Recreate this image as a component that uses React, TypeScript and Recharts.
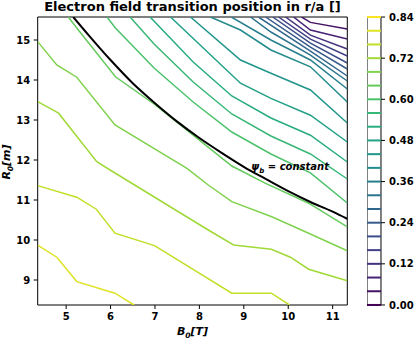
import React from 'react';
import { LineChart, Line, XAxis, YAxis, ReferenceArea, ReferenceDot } from 'recharts';

// contour levels, bottom-left (yellow) to top-right (purple)
const levels = [0.8, 0.76, 0.72, 0.68, 0.64, 0.6, 0.56, 0.52, 0.48, 0.44, 0.4, 0.36, 0.32, 0.28, 0.24, 0.2, 0.16, 0.12, 0.08, 0.04];

// contour paths, [B0, R0]
const c080 = [[4.36, 9.87], [4.79, 9.57], [5.24, 8.96], [6.1, 8.67], [6.53, 8.375]];
const c076 = [[4.36, 11.36], [5.24, 11.07], [5.68, 10.77], [6.1, 10.17], [6.99, 9.86], [8.73, 8.67], [9.62, 8.67], [10.03, 8.375]];
const c072 = [[4.36, 13.46], [4.83, 13.17], [5.69, 11.96], [5.99, 11.75], [8.2, 10.25], [8.77, 9.875], [9.62, 9.77], [10.05, 9.57], [10.46, 9.27], [11.33, 8.98]];
const c068 = [[4.36, 14.96], [4.79, 14.375], [5.24, 14.07], [6.1, 12.875], [7.72, 11.79], [8.2, 11.375], [8.73, 10.96], [9.63, 10.58], [10.46, 10.17], [11.33, 9.73]];
const c064 = [[5.05, 15.575], [5.24, 15.3], [6.11, 14.08], [6.98, 13.4], [7.86, 12.62], [8.73, 11.85], [9.48, 11.42], [10.46, 10.92], [11.33, 10.33]];
const c060 = [[5.92, 15.575], [6.11, 15.3], [6.98, 14.3], [7.86, 13.45], [8.73, 12.7], [9.61, 12.15], [10.5, 11.68], [11.33, 10.925]];
const c056 = [[6.44, 15.575], [6.98, 14.9], [7.86, 13.95], [8.73, 13.15], [9.61, 12.6], [10.5, 12.15], [11.33, 11.525]];
const c052 = [[6.89, 15.575], [7.86, 14.45], [8.73, 13.6], [9.61, 13.05], [10.5, 12.62], [11.33, 11.95]];
const c048 = [[7.35, 15.575], [8.925, 13.92], [9.61, 13.54], [10.5, 13.12], [11.33, 12.45]];
const c044 = [[7.8, 15.575], [8.925, 14.5], [9.61, 14.17], [10.5, 13.75], [11.33, 12.925]];
const c040 = [[8.25, 15.575], [8.925, 15.25], [9.61, 14.75], [10.5, 14.33], [11.33, 13.45]];
const c036 = [[8.72, 15.575], [9.61, 15.0], [10.5, 14.5], [11.33, 13.775]];
const c032 = [[9.15, 15.575], [9.61, 15.2], [10.5, 14.62], [11.33, 13.975]];
const c028 = [[9.33, 15.575], [10.5, 14.72], [11.33, 14.1]];
const c024 = [[9.49, 15.575], [10.5, 14.82], [11.33, 14.275]];
const c020 = [[9.65, 15.575], [10.5, 14.92], [11.33, 14.425]];
const c016 = [[9.78, 15.575], [10.5, 15.02], [11.33, 14.6]];
const c012 = [[9.94, 15.575], [10.5, 15.12], [11.33, 14.775]];
const c008 = [[10.12, 15.575], [10.5, 15.25], [11.33, 15.025]];
const c004 = [[10.3, 15.575], [10.5, 15.44], [11.33, 15.275]];

// psi_b = constant curve
const psiB = [[5.16, 15.575], [5.5, 15.13], [6, 14.5], [6.5, 13.92], [7, 13.42], [7.5, 12.96], [8, 12.55], [8.5, 12.18], [9, 11.83], [9.5, 11.52], [10, 11.22], [10.5, 10.95], [11, 10.71], [11.33, 10.53]];

const xTicks = [5, 6, 7, 8, 9, 10, 11];
const yTicks = [9, 10, 11, 12, 13, 14, 15];
const cbLevels = [0, 0.04, 0.08, 0.12, 0.16, 0.2, 0.24, 0.28, 0.32, 0.36, 0.4, 0.44, 0.48, 0.52, 0.56, 0.6, 0.64, 0.68, 0.72, 0.76, 0.8, 0.84];
const cbTicks = [0, 0.12, 0.24, 0.36, 0.48, 0.6, 0.72, 0.84];

const contours = [c080, c076, c072, c068, c064, c060, c056, c052, c048, c044, c040, c036, c032, c028, c024, c020, c016, c012, c008, c004];

const viridisStops = ['#440154', '#482475', '#414487', '#355f8d', '#2a788e', '#21918c', '#22a884', '#44bf70', '#7ad151', '#bddf26', '#fde725'];

function viridis(t: number) {
  const s = Math.max(0, Math.min(1, t)) * (viridisStops.length - 1);
  const i = Math.min(Math.floor(s), viridisStops.length - 2);
  const f = s - i;
  const a = viridisStops[i], b = viridisStops[i + 1];
  const ch = (h: string, k: number) => parseInt(h.slice(1 + 2 * k, 3 + 2 * k), 16);
  const c = [0, 1, 2].map((k) => Math.round(ch(a, k) + (ch(b, k) - ch(a, k)) * f));
  return `rgb(${c[0]},${c[1]},${c[2]})`;
}

const toPts = (arr: number[][]) => arr.map(([x, y]) => ({ x, y }));

const font = 'DejaVu Sans';
const tickStyle = { fill: '#000', fontSize: 10, fontWeight: 'bold', fontFamily: font };

export default function App() {
  return (
    <div style={{ position: 'absolute', left: 0, top: 0, width: 416, height: 339, background: '#fff', fontFamily: font }}>
      <LineChart width={416} height={339} margin={{ top: 17, right: 68.7, bottom: 4, left: 7.7 }}>
        <XAxis
          type="number"
          dataKey="x"
          domain={[4.36, 11.33]}
          allowDataOverflow
          ticks={xTicks}
          interval={0}
          height={30}
          tickSize={4}
          tickMargin={4}
          tick={tickStyle}
          axisLine={false}
          tickLine={{ stroke: '#000' }}
        />
        <YAxis
          type="number"
          domain={[8.375, 15.575]}
          allowDataOverflow
          ticks={yTicks}
          interval={0}
          width={30}
          tickSize={4}
          tickMargin={3.5}
          tick={tickStyle}
          axisLine={false}
          tickLine={{ stroke: '#000' }}
        />
        {contours.map((c, i) => (
          <Line
            key={i}
            data={toPts(c)}
            dataKey="y"
            type="linear"
            stroke={viridis(levels[i] / 0.84)}
            strokeWidth={1.5}
            dot={false}
            activeDot={false}
            isAnimationActive={false}
          />
        ))}
        <Line
          data={toPts(psiB)}
          dataKey="y"
          type="monotone"
          stroke="#000"
          strokeWidth={2}
          dot={false}
          activeDot={false}
          isAnimationActive={false}
        />
        <ReferenceDot
          x={9.17}
          y={11.75}
          r={0}
          shape={(p: any) => (
            <text x={p.cx} y={p.cy} fontSize={10} fontWeight="bold" fontStyle="italic" fontFamily={font} fill="#000">
              ψ<tspan dy={2.5} fontSize={7}>b</tspan>
              <tspan dy={-2.5}> = constant</tspan>
            </text>
          )}
        />
        <ReferenceArea x1={4.36} x2={11.33} y1={8.375} y2={15.575} fill="none" stroke="#000" strokeWidth={1} />
      </LineChart>

      <div style={{ position: 'absolute', left: 367.3, top: 0 }}>
        <LineChart width={48.7} height={339} margin={{ top: 17, right: 0, bottom: 34, left: 0 }}>
          <XAxis type="number" dataKey="x" domain={[0, 1]} hide />
          <YAxis
            type="number"
            orientation="right"
            domain={[0, 0.84]}
            ticks={cbTicks}
            interval={0}
            width={34.7}
            tickSize={4}
            tickMargin={4}
            tick={tickStyle}
            tickFormatter={(v: number) => v.toFixed(2)}
            axisLine={false}
            tickLine={{ stroke: '#000' }}
          />
          {cbLevels.map((l) => (
            <Line
              key={l}
              data={[{ x: 0, y: l }, { x: 1, y: l }]}
              dataKey="y"
              stroke={viridis(l / 0.84)}
              strokeWidth={2}
              dot={false}
              activeDot={false}
              isAnimationActive={false}
            />
          ))}
          <ReferenceArea x1={0} x2={1} y1={0} y2={0.84} fill="none" stroke="#000" strokeWidth={1} />
        </LineChart>
      </div>

      <svg width={416} height={339} style={{ position: 'absolute', left: 0, top: 0, pointerEvents: 'none' }}>
        <text x={192.5} y={10.5} textAnchor="middle" fontSize={13} fontWeight="bold" fontFamily={font}>
          Electron field transition position in r/a []
        </text>
        <text x={192.5} y={335} textAnchor="middle" fontSize={11} fontWeight="bold" fontStyle="italic" fontFamily={font}>
          B<tspan dy={2.5} fontSize={7.5}>0</tspan>
          <tspan dy={-2.5}>[T]</tspan>
        </text>
        <text transform="translate(10,162) rotate(-90)" textAnchor="middle" fontSize={11} fontWeight="bold" fontStyle="italic" fontFamily={font}>
          R<tspan dy={2.5} fontSize={7.5}>0</tspan>
          <tspan dy={-2.5}>[m]</tspan>
        </text>
      </svg>
    </div>
  );
}
